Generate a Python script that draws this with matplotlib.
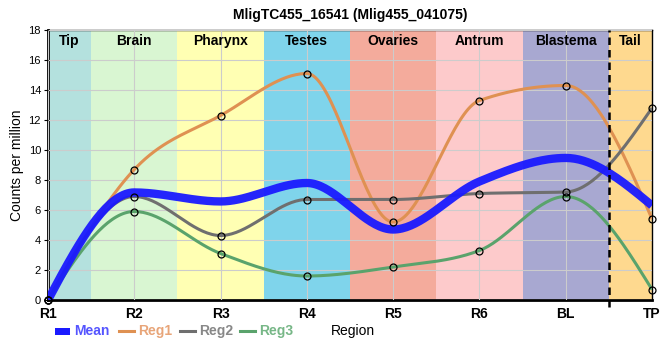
import numpy as np
import matplotlib
matplotlib.use("Agg")
import matplotlib.pyplot as plt

plt.rcParams["font.family"] = ["Liberation Sans", "DejaVu Sans"]

samples = ["R1", "R2", "R3", "R4", "R5", "R6", "BL", "TP"]
mean_vals = [0, 7.17, 6.57, 7.8, 4.7, 7.9, 9.47, 6.3]
reg1 = [0, 8.7, 12.3, 15.1, 5.2, 13.3, 14.3, 5.4]
reg2 = [0, 6.9, 4.3, 6.7, 6.7, 7.1, 7.2, 12.8]
reg3 = [0, 5.9, 3.1, 1.6, 2.2, 3.3, 6.9, 0.7]

regions = ["Tip", "Brain", "Pharynx", "Testes", "Ovaries", "Antrum", "Blastema", "Tail"]
region_colors = ["#b4e1de", "#d9f6d2", "#ffffb3", "#7fd4eb", "#f4ab9c",
                 "#fdcacb", "#a8a8d1", "#fed98f"]
region_edges = [0, 0.5, 1.5, 2.5, 3.5, 4.5, 5.5, 6.5, 7]


def monotone(x, y, n=40):
    # monotone cubic hermite, same idea as d3.curveMonotoneX
    x = np.asarray(x, float)
    y = np.asarray(y, float)
    h = np.diff(x)
    s = np.diff(y) / h
    t = np.zeros(len(x))
    for i in range(1, len(x) - 1):
        p = (s[i - 1] * h[i] + s[i] * h[i - 1]) / (h[i - 1] + h[i])
        t[i] = (np.sign(s[i - 1]) + np.sign(s[i])) * min(abs(s[i - 1]), abs(s[i]), 0.5 * abs(p))
    t[0] = (3 * s[0] - t[1]) / 2
    t[-1] = (3 * s[-1] - t[-2]) / 2
    xs, ys = [], []
    for i in range(len(x) - 1):
        u = np.linspace(0, 1, n)
        h00 = 2 * u**3 - 3 * u**2 + 1
        h10 = u**3 - 2 * u**2 + u
        h01 = -2 * u**3 + 3 * u**2
        h11 = u**3 - u**2
        xs.append(x[i] + u * h[i])
        ys.append(h00 * y[i] + h10 * h[i] * t[i] + h01 * y[i + 1] + h11 * h[i] * t[i + 1])
    return np.concatenate(xs), np.concatenate(ys)


W, H = 660, 360
fig = plt.figure(figsize=(6.6, 3.6), dpi=100)
ax = fig.add_axes([48 / W, 1 - 300 / H, 604 / W, 270 / H])
xpos = np.arange(len(samples))

for i, name in enumerate(regions):
    ax.axvspan(region_edges[i], region_edges[i + 1], color=region_colors[i], lw=0, zorder=0)
    ax.text((region_edges[i] + region_edges[i + 1]) / 2, 17.75, name, ha="center", va="top",
            fontsize=10, fontweight="bold", zorder=5)

ax.axvline(6.5, ymin=-0.025, ymax=1, color="black", ls=(0, (3, 2)), lw=1.8, zorder=4,
           clip_on=False)

series = [("Reg1", reg1, "#df9152"), ("Reg2", reg2, "#6f6f6f"), ("Reg3", reg3, "#5aa36c")]
for name, vals, col in series:
    sx, sy = monotone(xpos, vals)
    ax.plot(sx, sy, color=col, lw=2.2, zorder=3, solid_capstyle="butt")
sx, sy = monotone(xpos, mean_vals)
ax.plot(sx, sy, color="#1a1aff", lw=6, alpha=0.95, zorder=3.5, solid_capstyle="butt")
for name, vals, col in series:
    ax.plot(xpos, vals, ls="none", marker="o", ms=5, mfc="none", mec="black", mew=0.9, zorder=6,
            clip_on=False)

ax.set_xlim(0, 7)
ax.set_ylim(0, 18)
ax.set_xticks(xpos)
ax.set_xticklabels(samples, fontsize=10, fontweight="bold")
ax.set_yticks(range(0, 19, 2))
ax.tick_params(axis="y", labelsize=8, length=3, pad=2)
ax.tick_params(axis="x", length=0, pad=5)
ax.grid(True, color="#cccccc", lw=0.8, zorder=1)
ax.set_axisbelow(False)
for g in ax.get_xgridlines() + ax.get_ygridlines():
    g.set_zorder(1)
for side in ["top", "right"]:
    ax.spines[side].set_linewidth(1.0)
for side in ["left", "bottom"]:
    ax.spines[side].set_linewidth(2.0)
ax.set_ylabel("Counts per million", fontsize=10, labelpad=3)
ax.set_title("MligTC455_16541 (Mlig455_041075)", fontsize=10, fontweight="bold", pad=8)

# legend row along the bottom
ly = 1 - 331 / H
fig.add_artist(plt.Rectangle((55 / W, ly - 3.5 / H), 15 / W, 7 / H, color="#1a1aff",
                             lw=0, transform=fig.transFigure))
fig.text(74 / W, ly, "Mean", color="#5555ff", fontsize=10, fontweight="bold", va="center")
items = [("Reg1", 119, "#df9152", "#e8a579"), ("Reg2", 180, "#6f6f6f", "#888888"),
         ("Reg3", 240, "#5aa36c", "#77b787")]
for name, x0, col, tcol in items:
    fig.add_artist(plt.Line2D([x0 / W, (x0 + 15) / W], [ly, ly], color=col, lw=2.2,
                              transform=fig.transFigure))
    fig.text((x0 + 19) / W, ly, name, color=tcol, fontsize=10, fontweight="bold", va="center")
fig.text(331 / W, ly, "Region", color="black", fontsize=10, va="center")

fig.savefig("out.png", dpi=100)
